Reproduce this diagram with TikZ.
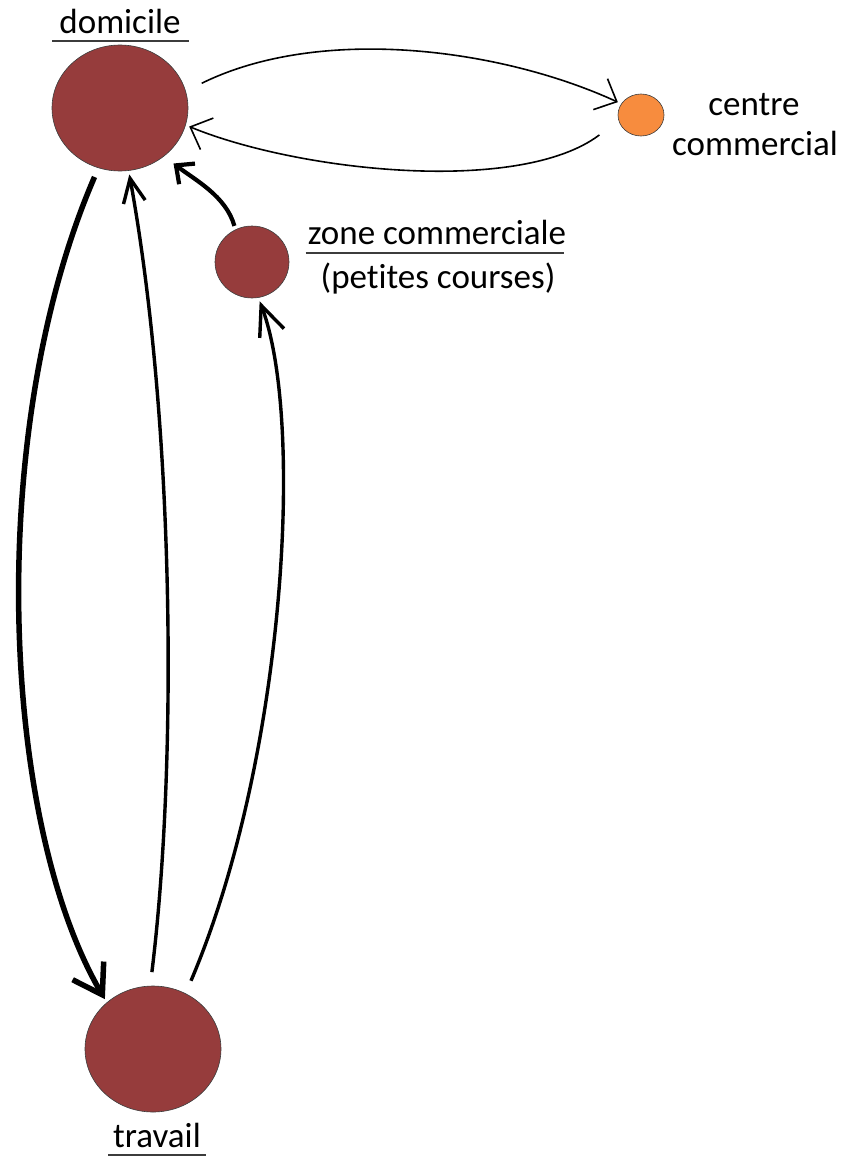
\documentclass[tikz,border=0pt]{standalone}
\usepackage{fontspec}
\setmainfont{Carlito}[Ligatures=NoCommon]
\usepackage{tikz}
\usetikzlibrary{shapes, arrows.meta, positioning, calc}
\definecolor{placebrown}{RGB}{150, 60, 60}
\definecolor{shoporange}{RGB}{247, 140, 62}
\definecolor{rulegray}{RGB}{60, 60, 60}

\tikzset{
  place/.style={ellipse, draw=rulegray, line width=0.6pt, fill=placebrown, inner sep=0pt, outer sep=4pt},
  placelabel/.style={font=\fontsize{35}{42}\selectfont, inner sep=0pt, anchor=base},
  labelrule/.style={draw=rulegray, line width=1.8pt},
  thintrip/.style={line width=1.6pt, -{Straight Barb[length=18pt, width=34pt]}},
}

\begin{document}
\begin{tikzpicture}[x=1pt, y=-1pt]
  \useasboundingbox (0,0) rectangle (845,1159);

  \node[place, minimum width=136pt, minimum height=126pt] (domicile) at (120,108) {};
  \node[place, minimum width=136pt, minimum height=126pt] (travail) at (153,1049) {};
  \node[place, minimum width=74pt, minimum height=72pt] (zone) at (252,262) {};
  \node[place, fill=shoporange, minimum width=46pt, minimum height=42pt] (centre) at (641,115) {};

  \node[placelabel] (domlbl) at (120,33) {domicile};
  \node[placelabel] (travlbl) at (157,1147) {travail};
  \node[placelabel] (zonelbl) at (437,244) {zone commerciale};
  \node[placelabel] (courseslbl) at (438,288) {(petites courses)};
  \node[placelabel] (centrelbl) at (754,115) {centre};
  \node[placelabel] (commlbl) at (755,155) {commercial};

  \draw[labelrule] ([shift={(-7,8)}]domlbl.base west) -- ([shift={(8,8)}]domlbl.base east);
  \draw[labelrule] ([shift={(-5,8)}]travlbl.base west) -- ([shift={(5,8)}]travlbl.base east);
  \draw[labelrule] ([shift={(-2,9)}]zonelbl.base west) -- ([shift={(-2,9)}]zonelbl.base east);

  \draw[thintrip, shorten <=14pt] (domicile.15) .. controls (320,25) and (500,48) .. (centre.151);
  \draw[thintrip, shorten <=20pt] (centre.197) .. controls (520,195) and (300,172) .. (domicile.-15);

  \draw[line width=5.5pt, -{Straight Barb[length=28pt, width=36pt]}, shorten <=6pt]
    (domicile.250) .. controls (-15,430) and (0,820) .. (travail.134);
  \draw[line width=3.4pt, -{Straight Barb[length=24pt, width=22pt]}, shorten <=10pt]
    (travail.92) .. controls (178,760) and (174,420) .. (domicile.-82);
  \draw[line width=3.4pt, -{Straight Barb[length=30pt, width=26pt]}, shorten <=10pt]
    (travail.60) .. controls (285,760) and (305,420) .. (zone.-79);
  \draw[line width=4.2pt, -{Straight Barb[length=14pt, width=26pt]}, shorten >=8pt]
    (zone.116) .. controls (226,196) and (195,180) .. (domicile.-47);
\end{tikzpicture}
\end{document}
